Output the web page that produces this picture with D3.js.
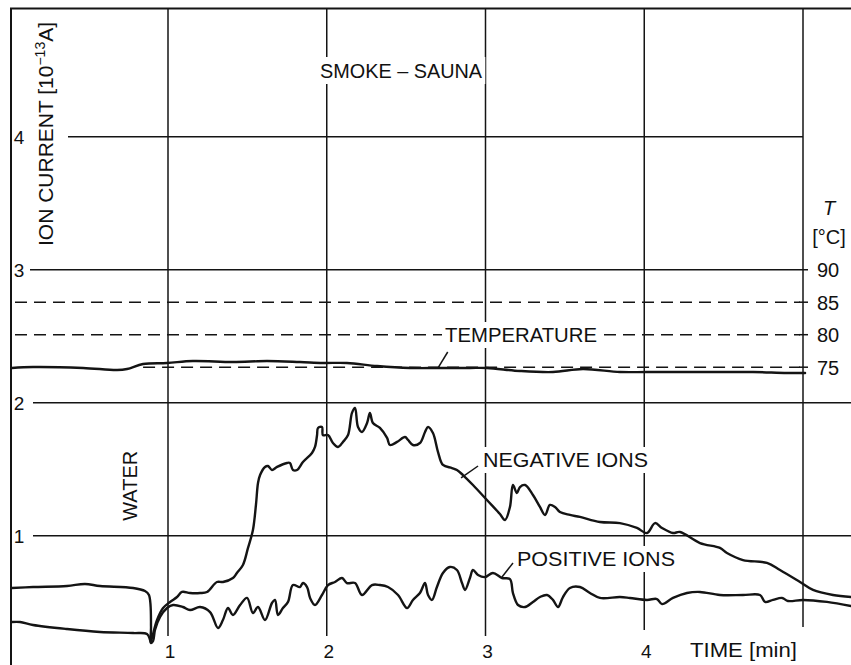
<!DOCTYPE html>
<html><head><meta charset="utf-8">
<script src="https://cdn.jsdelivr.net/npm/d3@7"></script>
<style>
body{margin:0;background:#fff}
svg{display:block;background:#fff}
text{font-family:"Liberation Sans",Arial,sans-serif;fill:#111}
</style>
</head><body><svg id="c" width="851" height="665"></svg>
<script>
// ---- data (time in min, ion current in 1e-13 A, temperature in °C) ----
const negT = [0.017,0.150,0.364,0.477,0.572,0.780,0.855,0.880,0.893,0.890,
0.899,0.931,0.969,1.013,1.057,1.088,1.139,1.202,1.246,1.308,
1.346,1.409,1.434,1.472,1.504,1.535,1.554,1.567,1.580,1.611,
1.630,1.655,1.687,1.750,1.768,1.787,1.813,1.850,1.907,1.926,
1.939,1.945,1.970,1.976,2.008,2.039,2.071,2.102,2.134,2.159,
2.178,2.197,2.222,2.254,2.272,2.291,2.335,2.380,2.398,2.443,
2.493,2.512,2.543,2.587,2.619,2.638,2.669,2.701,2.732,2.789,
2.820,2.858,2.921,3.009,3.091,3.123,3.154,3.173,3.198,3.217,
3.249,3.299,3.343,3.375,3.406,3.438,3.469,3.532,3.595,3.721,
3.847,3.954,4.017,4.068,4.112,4.181,4.225,4.351,4.477,4.521,
4.622,4.773,4.855,4.981,5.063,5.189,5.302];
const negV = [0.607,0.614,0.622,0.637,0.622,0.607,0.584,0.554,0.314,0.201,
0.231,0.366,0.456,0.502,0.539,0.577,0.569,0.569,0.577,0.652,
0.652,0.682,0.720,0.780,0.908,1.043,1.231,1.396,1.456,1.517,
1.524,1.494,1.517,1.547,1.547,1.494,1.494,1.554,1.622,1.667,
1.757,1.810,1.817,1.757,1.757,1.697,1.667,1.705,1.757,1.923,
1.960,1.817,1.780,1.847,1.923,1.847,1.810,1.735,1.682,1.705,
1.742,1.720,1.682,1.697,1.780,1.817,1.772,1.629,1.532,1.509,
1.494,1.456,1.381,1.268,1.163,1.118,1.216,1.381,1.321,1.366,
1.381,1.306,1.216,1.156,1.231,1.216,1.178,1.156,1.141,1.103,
1.095,1.058,1.020,1.095,1.058,1.020,1.028,0.945,0.908,0.870,
0.817,0.795,0.742,0.652,0.592,0.554,0.539];

const posT = [0.017,0.068,0.150,0.364,0.572,0.780,0.868,0.887,0.893,0.906,
0.918,0.950,0.994,1.032,1.094,1.139,1.202,1.265,1.315,1.346,
1.378,1.409,1.454,1.498,1.535,1.567,1.611,1.655,1.674,1.693,
1.724,1.756,1.787,1.831,1.850,1.876,1.895,1.926,1.970,2.008,
2.052,2.096,2.127,2.178,2.222,2.285,2.335,2.386,2.449,2.506,
2.543,2.587,2.619,2.638,2.663,2.694,2.732,2.776,2.820,2.852,
2.871,2.902,2.921,2.953,2.997,3.047,3.104,3.154,3.173,3.205,
3.249,3.299,3.343,3.387,3.425,3.457,3.488,3.532,3.595,3.658,
3.721,3.847,3.910,4.017,4.080,4.112,4.181,4.269,4.351,4.477,
4.622,4.729,4.761,4.811,4.868,4.905,5.000,5.151,5.302];
const posV = [0.351,0.351,0.329,0.298,0.276,0.268,0.261,0.216,0.193,0.208,
0.291,0.389,0.456,0.479,0.464,0.441,0.464,0.426,0.306,0.366,
0.456,0.404,0.479,0.532,0.419,0.464,0.366,0.494,0.517,0.404,
0.456,0.502,0.629,0.614,0.644,0.614,0.532,0.479,0.554,0.629,
0.652,0.682,0.644,0.644,0.554,0.629,0.629,0.614,0.554,0.456,
0.517,0.569,0.644,0.554,0.517,0.614,0.720,0.765,0.742,0.644,
0.592,0.682,0.742,0.705,0.689,0.720,0.682,0.674,0.569,0.479,
0.464,0.502,0.539,0.554,0.517,0.464,0.539,0.607,0.614,0.569,
0.532,0.539,0.532,0.517,0.524,0.486,0.532,0.569,0.577,0.554,
0.554,0.554,0.502,0.517,0.532,0.509,0.517,0.502,0.471];

const tempT = [0.017,0.150,0.465,0.679,0.742,0.843,0.994,1.157,1.409,1.624,
1.831,1.976,2.127,2.317,2.524,2.713,2.902,3.009,3.217,3.425,
3.614,3.847,4.017,4.269,4.477,4.685,4.899,5.013];
const tempV = [74.88,75.03,74.88,74.57,74.72,75.49,75.65,75.95,75.80,75.95,
75.80,75.65,75.65,75.18,74.88,74.88,74.88,74.88,74.42,74.26,
74.72,74.26,74.26,74.26,74.26,74.26,74.11,74.11];

const timeTicks = [1,2,3,4];
const timeGrid = [1,2,3,4,5];
const ionTicks = [1,2,3,4];
const tempTicks = [90,85,80,75];

// ---- scales ----
const svg = d3.select("#c");
const ink = "#141414";
const x = d3.scaleLinear().domain([0,5]).range([9.25,803]);
const y = d3.scaleLinear().domain([0,4]).range([668.7,136.7]);
const yT = d3.scaleLinear().domain([75,90]).range([y(3)+97.5, y(3)]);

const gGrid = svg.append("g").attr("stroke",ink).attr("stroke-width",1.5).attr("fill","none");
const gMask = svg.append("g").attr("fill","#fff");
const gLab = svg.append("g");
const gCurve = svg.append("g").attr("fill","none").attr("stroke",ink)
  .attr("stroke-width",2.4).attr("stroke-linejoin","round").attr("stroke-linecap","round");

// borders
gGrid.append("line").attr("x1",10).attr("x2",851).attr("y1",8.5).attr("y2",8.5).attr("stroke-width",2.2);
gGrid.append("line").attr("x1",11).attr("x2",11).attr("y1",8).attr("y2",665).attr("stroke-width",2);

// vertical grid
gGrid.selectAll(".vg").data(timeGrid).join("line")
  .attr("x1",d=>x(d)).attr("x2",d=>x(d)).attr("y1",8)
  .attr("y2",d=> d===5 ? 627 : (d===4 ? 630 : 636));

// horizontal ion grid
const hStart = {4:68,3:30,2:33,1:33};
const hEnd = {4:803,3:808,2:851,1:851};
gGrid.selectAll(".hg").data(ionTicks).join("line")
  .attr("x1",d=>hStart[d]).attr("x2",d=>hEnd[d]).attr("y1",d=>y(d)).attr("y2",d=>y(d));

// temperature dashed lines + ticks
tempTicks.filter(d=>d!==90).forEach(d=>{
  gGrid.append("line").attr("x1", d===75 ? x(tempT[5]) : 15).attr("x2",800)
    .attr("y1",yT(d)).attr("y2",yT(d)).attr("stroke-dasharray","12,7");
  gGrid.append("line").attr("x1",799).attr("x2",808).attr("y1",yT(d)).attr("y2",yT(d));
});

// labels with white masks
function label(txt, x0, base, fs, w, anchor, mask){
  const t = gLab.append("text").attr("x",x0).attr("y",base).attr("font-size",fs)
    .attr("text-anchor",anchor||"start").text(txt);
  if (w) t.attr("textLength",w).attr("lengthAdjust","spacingAndGlyphs");
  if (mask){
    const b = t.node().getBBox();
    gMask.append("rect").attr("x",b.x-3).attr("y",b.y-2).attr("width",b.width+6).attr("height",b.height+4);
  }
  return t;
}
label("SMOKE \u2013 SAUNA", 320, 78, 20.5, 162, "start", true);
label("TEMPERATURE", 445, 342, 19.5, 152, "start", true);
label("NEGATIVE IONS", 483, 467, 20, 165, "start", true);
label("POSITIVE IONS", 517, 566, 20, 158, "start", true);
label("TIME [min]", 690, 657, 20, 107, "start", true);

timeTicks.forEach(t=> label(String(t), x(t)+2, 658, 19, null, "middle", false));
ionTicks.forEach(v=> label(String(v), 19, y(v)+7, 19, null, "middle", false));
tempTicks.forEach(T=> label(String(T), 817, yT(T)+7.5, 20, null, "start", false));

gLab.append("text").attr("x",829).attr("y",215).attr("font-size",20)
  .attr("font-style","italic").attr("text-anchor","middle").text("T");
gLab.append("text").attr("x",829).attr("y",244).attr("font-size",20)
  .attr("text-anchor","middle").text("[\u00B0C]");

// rotated titles
const title = gLab.append("text").attr("transform","translate(53,134) rotate(-90)")
  .attr("font-size",21).attr("text-anchor","middle");
title.append("tspan").text("ION CURRENT [10");
title.append("tspan").attr("dy",-8).attr("font-size",14).text("\u221213");
title.append("tspan").attr("dy",8).text("A]");

gLab.append("text").attr("transform",`translate(137,${y(1.375)}) rotate(-90)`)
  .attr("font-size",20).attr("text-anchor","middle").text("WATER");

// curves
const lineIon = d3.line().curve(d3.curveCatmullRom.alpha(0.5)).x(d=>x(d[0])).y(d=>y(d[1]));
const lineTemp = d3.line().curve(d3.curveCatmullRom.alpha(0.5)).x(d=>x(d[0])).y(d=>yT(d[1]));
gCurve.append("path").attr("d", lineIon(d3.zip(negT,negV)));
gCurve.append("path").attr("d", lineIon(d3.zip(posT,posV)));
gCurve.append("path").attr("d", lineTemp(d3.zip(tempT,tempV)));

// leader lines
const gLead = svg.append("g").attr("stroke",ink).attr("stroke-width",1.5);
gLead.append("line").attr("x1",x(2.701)).attr("y1",yT(74.88)).attr("x2",x(2.762)).attr("y2",yT(77.34));
gLead.append("line").attr("x1",x(2.846)).attr("y1",y(1.434)).attr("x2",x(2.953)).attr("y2",y(1.524));
gLead.append("line").attr("x1",x(3.104)).attr("y1",y(0.689)).attr("x2",x(3.173)).attr("y2",y(0.795));
</script>
</body></html>
